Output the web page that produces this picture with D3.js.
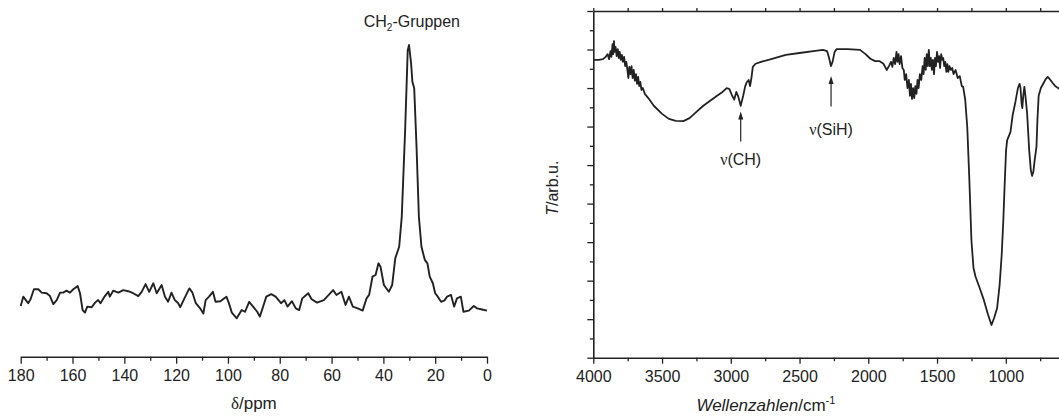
<!DOCTYPE html>
<html>
<head>
<meta charset="utf-8">
<script src="https://cdnjs.cloudflare.com/ajax/libs/d3/7.8.5/d3.min.js"></script>
<style>
    body { margin: 0; background: #fff; }
    svg { display: block; font-family: "Liberation Sans", Arial, sans-serif; }
</style>
</head>
<body>
<div id="chart"></div>
<script>
// 13C NMR spectrum (left): chemical shift in ppm, intensity in arb. units
var nmrPpm = [180, 179.0, 178.0, 177.1, 176.2, 174.9, 173.2, 171.9, 170.0, 168.7, 167.4, 166.1, 164.8, 163.6, 162.3, 161.0,
    159.7, 158.0, 157.1, 156.1, 155.2, 154.3, 152.6, 151.3, 150.1, 149.2, 147.5, 146.2, 145.6, 144.3, 142.3, 140.4,
    138.5, 136.6, 134.6, 133.3, 131.8, 130.4, 128.8, 127.5, 125.6, 124.3, 123.1, 121.8, 120.5, 119.2, 118.4, 116.8,
    114.9, 113.7, 112.4, 110.5, 109.5, 108.6, 107.3, 105.8, 104.8, 102.9, 100.6, 99.7, 98.5, 96.6, 94.7, 93.4,
    91.8, 90.3, 88.7, 87.7, 86.5, 85.2, 83.3, 81.6, 79.5, 78.2, 77.0, 75.3, 73.8, 72.5, 71.3, 69.0,
    67.7, 65.6, 63.0, 61.1, 59.4, 58.1, 56.2, 54.6, 53.3, 51.8, 49.9, 48.0, 46.5, 45.5, 44.2, 43.0,
    41.9, 41.1, 39.8, 37.9, 36.6, 35.4, 33.9, 32.9, 31.6, 30.6, 30.1, 29.3, 28.8, 28.1, 27.2, 26.3,
    25.3, 24.0, 23.0, 22.1, 20.9, 20.0, 19.0, 17.7, 16.4, 15.4, 13.9, 12.7, 11.6, 10.1, 9.1, 7.0,
    5.1, 3.8, 1.9, 0];
var nmrIntensity = [8.4, 11.7, 10.5, 9.4, 10.8, 14.3, 14.3, 13.1, 12.9, 11.9, 9.1, 10.5, 13.1, 13.1, 13.8, 13.1,
    14.3, 15.4, 12.9, 7.0, 6.1, 8.2, 8.0, 9.6, 10.5, 9.4, 11.9, 13.4, 11.7, 13.8, 13.1, 14.0,
    13.6, 12.9, 11.9, 13.4, 16.1, 13.4, 16.4, 12.9, 15.8, 11.7, 9.9, 13.1, 10.5, 9.4, 8.0, 11.1,
    14.6, 13.1, 9.4, 7.3, 5.8, 10.5, 11.7, 13.4, 9.9, 10.1, 11.7, 9.6, 6.1, 4.1, 7.0, 6.4,
    9.9, 8.2, 6.4, 4.7, 8.0, 11.7, 12.6, 11.7, 9.4, 10.5, 8.2, 10.1, 7.6, 7.0, 11.1, 12.9,
    10.8, 9.6, 10.5, 12.3, 14.0, 12.3, 13.4, 8.8, 11.7, 8.2, 7.6, 6.8, 11.1, 12.3, 18.7, 19.3,
    23.4, 22.2, 15.8, 13.4, 15.8, 25.2, 29.2, 39.8, 70.2, 98.2, 100, 93.6, 87.1, 84.8, 64.3, 39.8,
    29.2, 24.6, 23.4, 18.7, 16.4, 12.9, 11.7, 9.9, 10.4, 11.7, 12.3, 8.2, 11.1, 11.7, 6.4, 6.8,
    8.4, 7.6, 7.2, 6.8];
var nmrTicks = [180, 160, 140, 120, 100, 80, 60, 40, 20, 0];
var nmrMinorTicks = [170, 150, 130, 110, 90, 70, 50, 30, 10];

// IR spectrum (right): wavenumber in cm-1, transmission in arb. units
var irWavenumber = [4000, 3990, 3960, 3930, 3910, 3895, 3885, 3875, 3868, 3860, 3855, 3850, 3845, 3838, 3830, 3822,
    3815, 3808, 3800, 3792, 3785, 3776, 3768, 3760, 3752, 3745, 3738, 3730, 3722, 3714, 3706, 3698,
    3690, 3682, 3674, 3666, 3658, 3650, 3640, 3625, 3600, 3560, 3500, 3450, 3400, 3345, 3300, 3250,
    3200, 3150, 3100, 3060, 3030, 3010, 2990, 2975, 2960, 2945, 2928, 2910, 2895, 2884, 2870, 2860,
    2850, 2840, 2820, 2780, 2700, 2600, 2500, 2400, 2330, 2300, 2285, 2272, 2260, 2245, 2230, 2150,
    2060, 2020, 1985, 1950, 1920, 1890, 1866, 1850, 1835, 1825, 1815, 1805, 1795, 1788, 1780, 1772,
    1762, 1752, 1742, 1735, 1725, 1715, 1705, 1697, 1690, 1682, 1674, 1666, 1658, 1650, 1642, 1634,
    1625, 1615, 1605, 1598, 1590, 1582, 1575, 1567, 1560, 1552, 1545, 1538, 1530, 1522, 1515, 1508,
    1500, 1492, 1485, 1478, 1470, 1462, 1455, 1448, 1440, 1432, 1425, 1418, 1410, 1400, 1390, 1380,
    1365, 1350, 1335, 1320, 1310, 1295, 1280, 1265, 1250, 1235, 1220, 1190, 1160, 1130, 1104, 1085,
    1063, 1045, 1030, 1018, 1009, 998, 990, 975, 966, 950, 930, 912, 900, 893, 885, 880,
    873, 865, 858, 845, 830, 818, 809, 800, 790, 777, 770, 761, 745, 725, 710, 695,
    680, 659, 640, 620, 600];
var irTransmission = [77.3, 77.3, 77.3, 77.5, 78.1, 78.8, 77.5, 79.6, 78.1, 81.4, 78.8, 82.2, 79.4, 80.7, 78.3, 80.1,
    77.8, 79.4, 77.3, 78.6, 76.8, 78.1, 75.7, 76.8, 74.7, 72.6, 75.5, 73.6, 75.7, 72.6, 74.7, 71.9,
    73.6, 71.1, 72.9, 70.5, 71.6, 69.5, 70.0, 68.5, 67.4, 65.4, 63.3, 62.0, 61.5, 61.4, 62.2, 63.8,
    65.4, 66.7, 68.0, 69.0, 70.0, 69.7, 68.0, 67.0, 69.0, 67.7, 65.4, 68.0, 70.5, 71.5, 72.1, 70.5,
    72.6, 75.5, 76.3, 76.8, 77.6, 78.6, 79.1, 79.6, 79.9, 79.6, 77.8, 75.7, 76.8, 79.4, 80.1, 80.1,
    79.9, 78.8, 77.6, 77.0, 77.0, 76.3, 74.7, 75.7, 76.8, 75.5, 77.8, 76.2, 79.4, 76.8, 78.8, 76.2,
    78.3, 75.2, 74.7, 72.1, 73.6, 70.0, 72.1, 68.0, 71.1, 67.2, 70.0, 67.4, 70.5, 68.5, 72.1, 70.0,
    73.6, 72.1, 75.7, 73.6, 77.8, 74.7, 78.8, 75.7, 79.9, 75.7, 77.8, 74.7, 77.3, 73.6, 77.8, 75.7,
    79.4, 76.8, 78.3, 75.2, 78.8, 77.3, 77.8, 75.7, 76.8, 74.2, 76.2, 74.2, 75.7, 74.7, 75.2, 73.6,
    74.7, 72.6, 73.1, 70.5, 70.3, 66.9, 59.7, 46.1, 30.5, 23.3, 21.0, 18.1, 15.0, 11.3, 8.5, 10.3,
    12.9, 18.9, 26.6, 35.7, 44.3, 53.9, 56.5, 57.8, 58.6, 63.0, 66.4, 70.0, 71.1, 70.0, 65.9, 64.8,
    68.0, 70.3, 68.2, 63.5, 53.9, 48.7, 47.2, 48.2, 51.3, 54.7, 61.7, 68.0, 70.0, 71.3, 72.3, 72.9,
    72.3, 71.3, 70.5, 70.0, 69.5];
var irTicks = [4000, 3500, 3000, 2500, 2000, 1500, 1000];
var irMinorTicks = [3750, 3250, 2750, 2250, 1750, 1250, 750];
var irYTicks = [0, 10, 20, 30, 40, 50, 60, 70, 80, 90];
var irYMinorTicks = [5, 15, 25, 35, 45, 55, 65, 75, 85];

var ink = "#222";

var svg = d3.select("#chart")
    .append("svg")
    .attr("width", 1059)
    .attr("height", 416);

// ---------- left panel: NMR ----------
var nx = d3.scaleLinear().domain([180, 0]).range([20.7, 487]);
var ny = d3.scaleLinear().domain([0, 100]).range([330, 45]);
var nmrAxisY = 356.7;

svg.append("g")
    .attr("transform", "translate(0," + nmrAxisY + ")")
    .call(d3.axisBottom(nx).tickValues(nmrTicks).tickSize(7).tickSizeOuter(0).tickPadding(6));

svg.append("g")
    .attr("transform", "translate(0," + nmrAxisY + ")")
    .call(d3.axisBottom(nx).tickValues(nmrMinorTicks).tickSize(4).tickSizeOuter(0).tickFormat(""))
    .select(".domain").remove();

var nmrLine = d3.line()
    .x(function(d, i) { return nx(nmrPpm[i]); })
    .y(function(d) { return ny(d); });

svg.append("path")
    .datum(nmrIntensity)
    .attr("fill", "none")
    .attr("stroke", ink)
    .attr("stroke-width", 1.9)
    .attr("stroke-linejoin", "round")
    .attr("d", nmrLine);

// peak label
var ch2 = svg.append("text")
    .attr("x", nx(29))
    .attr("y", ny(106.3))
    .attr("text-anchor", "middle")
    .attr("font-size", 16)
    .attr("fill", ink);
ch2.append("tspan").text("CH");
ch2.append("tspan").attr("font-size", 10).attr("dy", 4).text("2");
ch2.append("tspan").attr("dy", -4).text("-Gruppen");

// axis title
var nTitle = svg.append("text")
    .attr("x", nx(90))
    .attr("y", 409)
    .attr("text-anchor", "middle")
    .attr("font-size", 17)
    .attr("fill", ink);
nTitle.append("tspan").attr("font-family", "'Liberation Serif', 'DejaVu Serif', serif").text("δ");
nTitle.append("tspan").text("/ppm");

// ---------- right panel: IR ----------
var ix = d3.scaleLinear().domain([4000, 400]).range([593.3, 1088.3]);
var iy = d3.scaleLinear().domain([0, 90]).range([357.7, 11]);

// bottom axis
svg.append("g")
    .attr("transform", "translate(0," + iy(0) + ")")
    .call(d3.axisBottom(ix).tickValues(irTicks).tickFormat(d3.format("d"))
        .tickSize(6).tickSizeOuter(0).tickPadding(7));
svg.append("g")
    .attr("transform", "translate(0," + iy(0) + ")")
    .call(d3.axisBottom(ix).tickValues(irMinorTicks).tickSize(3.5).tickSizeOuter(0).tickFormat(""))
    .select(".domain").remove();

// top axis (frame)
svg.append("g")
    .attr("transform", "translate(0," + iy(90) + ")")
    .call(d3.axisTop(ix).tickValues(irTicks.concat(irMinorTicks)).tickSize(3).tickSizeOuter(0).tickFormat(""));

// left axis, no labels
svg.append("g")
    .attr("transform", "translate(" + ix(4000) + ",0)")
    .call(d3.axisLeft(iy).tickValues(irYTicks).tickSize(6).tickSizeOuter(0).tickFormat(""));
svg.append("g")
    .attr("transform", "translate(" + ix(4000) + ",0)")
    .call(d3.axisLeft(iy).tickValues(irYMinorTicks).tickSize(3.5).tickSizeOuter(0).tickFormat(""))
    .select(".domain").remove();

var irLine = d3.line()
    .x(function(d, i) { return ix(irWavenumber[i]); })
    .y(function(d) { return iy(d); });

svg.append("path")
    .datum(irTransmission)
    .attr("fill", "none")
    .attr("stroke", ink)
    .attr("stroke-width", 1.8)
    .attr("stroke-linejoin", "round")
    .attr("d", irLine);

// annotation arrows
function arrow(wn, tipT, tailT) {
    var xx = ix(wn), yt = iy(tipT), yb = iy(tailT);
    svg.append("line")
        .attr("x1", xx).attr("x2", xx)
        .attr("y1", yt + 6).attr("y2", yb)
        .attr("stroke", ink).attr("stroke-width", 1.2);
    svg.append("path")
        .attr("d", "M" + xx + "," + yt + "L" + (xx - 2.5) + "," + (yt + 8) + "L" + (xx + 2.5) + "," + (yt + 8) + "Z")
        .attr("fill", ink);
}
function nuLabel(wn, t, inner) {
    var tx = svg.append("text")
        .attr("x", ix(wn))
        .attr("y", iy(t))
        .attr("text-anchor", "middle")
        .attr("font-size", 16)
        .attr("fill", ink);
    tx.append("tspan").attr("font-family", "'Liberation Serif', 'DejaVu Serif', serif").text("ν");
    tx.append("tspan").text("(" + inner + ")");
}
arrow(2928, 63.9, 56.1);
nuLabel(2928, 50.0, "CH");
arrow(2271, 73.1, 65.2);
nuLabel(2271, 57.8, "SiH");

// axis titles
svg.append("text")
    .attr("transform", "translate(558," + iy(44) + ") rotate(-90)")
    .attr("text-anchor", "middle")
    .attr("font-size", 16)
    .attr("fill", ink)
    .call(function(t) {
        t.append("tspan").attr("font-style", "italic").text("T");
        t.append("tspan").text("/arb.u.");
    });

var iTitle = svg.append("text")
    .attr("x", ix(2745))
    .attr("y", 411)
    .attr("text-anchor", "middle")
    .attr("font-size", 17)
    .attr("fill", ink);
iTitle.append("tspan").attr("font-style", "italic").text("Wellenzahlen");
iTitle.append("tspan").text("/cm");
iTitle.append("tspan").attr("font-size", 11).attr("dy", -7).text("-1");

// style all axes alike
svg.selectAll(".domain").attr("stroke", ink).attr("stroke-width", 1.6);
svg.selectAll(".tick line").attr("stroke", ink).attr("stroke-width", 1.3);
svg.selectAll(".tick text")
    .attr("font-size", 16)
    .attr("font-family", "'Liberation Sans', Arial, sans-serif")
    .attr("fill", ink);
</script>
</body>
</html>
